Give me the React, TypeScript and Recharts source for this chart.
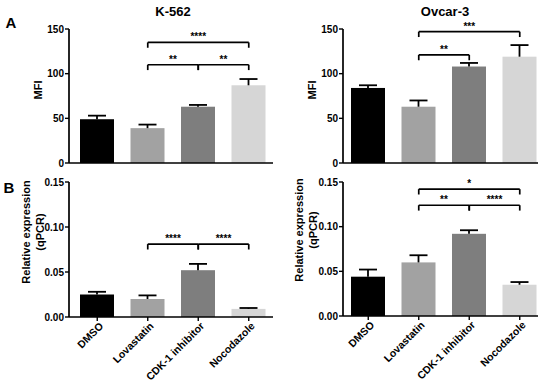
import { BarChart, Bar, Cell, XAxis, YAxis, ReferenceLine } from "recharts";

const categories = ["DMSO", "Lovastatin", "CDK-1 inhibitor", "Nocodazole"];
const barColors = ["#000000", "#a2a2a2", "#7e7e7e", "#d6d6d6"];

const k562Mfi = [49, 39, 63, 87];
const k562MfiSem = [4, 4, 2, 7];
const ovcarMfi = [84, 63, 108, 119];
const ovcarMfiSem = [3, 7, 4, 13];
const k562Qpcr = [0.025, 0.02, 0.052, 0.009];
const k562QpcrSem = [0.003, 0.004, 0.007, 0.001];
const ovcarQpcr = [0.044, 0.06, 0.092, 0.035];
const ovcarQpcrSem = [0.008, 0.008, 0.004, 0.003];

const mfiTicks = [0, 50, 100, 150];
const qpcrTicks = [0, 0.05, 0.1, 0.15];

type Bracket = { from: number; to: number; y: number; stars: string };

const k562MfiSig: Bracket[] = [
  { from: 1, to: 3, y: 135, stars: "****" },
  { from: 1, to: 2, y: 110, stars: "**" },
  { from: 2, to: 3, y: 110, stars: "**" },
];
const ovcarMfiSig: Bracket[] = [
  { from: 1, to: 3, y: 147, stars: "***" },
  { from: 1, to: 2, y: 121, stars: "**" },
];
const k562QpcrSig: Bracket[] = [
  { from: 1, to: 2, y: 0.081, stars: "****" },
  { from: 2, to: 3, y: 0.081, stars: "****" },
];
const ovcarQpcrSig: Bracket[] = [
  { from: 1, to: 3, y: 0.142, stars: "*" },
  { from: 1, to: 2, y: 0.124, stars: "**" },
  { from: 2, to: 3, y: 0.124, stars: "****" },
];

const FONT = '"Liberation Sans", Arial, sans-serif';

const toRows = (values: number[], sem: number[]) =>
  categories.map((name, i) => ({ name, value: values[i], sem: sem[i] }));

// bar + upper-only SEM whisker (Prism style)
function BarWithSem(props: any) {
  const { x, y, width, height, fill, payload } = props;
  const k = payload.value > 0 ? height / payload.value : 0;
  const top = y - payload.sem * k;
  const cx = x + width / 2;
  return (
    <g>
      <rect x={x} y={y} width={width} height={height} fill={fill} />
      <line x1={cx} x2={cx} y1={y} y2={top} stroke="#000" strokeWidth={1.8} />
      <line x1={cx - 9} x2={cx + 9} y1={top} y2={top} stroke="#000" strokeWidth={1.8} />
    </g>
  );
}

function AngledTick(props: any) {
  const { x, y, payload } = props;
  return (
    <g transform={`translate(${x + 1},${y - 2})`}>
      <text
        textAnchor="end"
        transform="rotate(-45)"
        dy={8}
        fontSize={10.5}
        fontWeight="bold"
        fontFamily={FONT}
        fill="#000"
      >
        {payload.value}
      </text>
    </g>
  );
}

const starLabel = (stars: string) => (props: any) => {
  const vb = props.viewBox || {};
  return (
    <text
      x={vb.x + (vb.width || 0) / 2}
      y={vb.y - 2}
      textAnchor="middle"
      fontSize={10}
      fontWeight="bold"
      fontFamily={FONT}
      fill="#000"
    >
      {stars}
    </text>
  );
};

function bracketLines(list: Bracket[], drop: number) {
  return list.flatMap((b, i) => {
    const a = categories[b.from];
    const c = categories[b.to];
    return [
      <ReferenceLine
        key={`h${i}`}
        segment={[{ x: a, y: b.y }, { x: c, y: b.y }]}
        stroke="#000"
        strokeWidth={1.7}
        ifOverflow="visible"
        label={starLabel(b.stars)}
      />,
      <ReferenceLine
        key={`l${i}`}
        segment={[{ x: a, y: b.y }, { x: a, y: b.y - drop }]}
        stroke="#000"
        strokeWidth={1.7}
        ifOverflow="visible"
      />,
      <ReferenceLine
        key={`r${i}`}
        segment={[{ x: c, y: b.y }, { x: c, y: b.y - drop }]}
        stroke="#000"
        strokeWidth={1.7}
        ifOverflow="visible"
      />,
    ];
  });
}

type PanelProps = {
  left: number;
  top: number;
  width: number;
  height: number;
  marginTop: number;
  marginRight: number;
  xHeight: number;
  padL: number;
  padR: number;
  rows: { name: string; value: number; sem: number }[];
  ticks: number[];
  fmt: (v: number) => string;
  sig: Bracket[];
  labels: boolean;
};

function Panel(p: PanelProps) {
  const max = p.ticks[p.ticks.length - 1];
  const tickStyle = { fontSize: 10, fontWeight: "bold", fontFamily: FONT, fill: "#000" };
  return (
    <div style={{ position: "absolute", left: p.left, top: p.top }}>
      <BarChart
        width={p.width}
        height={p.height}
        data={p.rows}
        margin={{ top: p.marginTop, right: p.marginRight, left: 0, bottom: 0 }}
      >
        <XAxis
          dataKey="name"
          height={p.xHeight}
          interval={0}
          padding={{ left: p.padL, right: p.padR }}
          axisLine={{ stroke: "#000", strokeWidth: 1.7 }}
          tickLine={{ stroke: "#000", strokeWidth: 1.4 }}
          tickSize={4}
          tick={p.labels ? <AngledTick /> : false}
        />
        <YAxis
          width={69}
          domain={[0, max]}
          ticks={p.ticks}
          interval={0}
          tickFormatter={p.fmt}
          axisLine={{ stroke: "#000", strokeWidth: 1.7 }}
          tickLine={{ stroke: "#000", strokeWidth: 1.4 }}
          tickSize={4}
          tickMargin={1}
          tick={tickStyle}
        />
        <Bar dataKey="value" barSize={34} shape={<BarWithSem />} isAnimationActive={false}>
          {p.rows.map((_, i) => (
            <Cell key={i} fill={barColors[i]} />
          ))}
        </Bar>
        {bracketLines(p.sig, max * 0.04)}
      </BarChart>
    </div>
  );
}

function Txt({ x, y, size, children, rotate }: any) {
  return (
    <div
      style={{
        position: "absolute",
        left: x,
        top: y,
        transform: `translate(-50%, -50%)${rotate ? " rotate(-90deg)" : ""}`,
        whiteSpace: "nowrap",
        fontFamily: FONT,
        fontWeight: "bold",
        fontSize: size,
        lineHeight: 1,
        color: "#000",
      }}
    >
      {children}
    </div>
  );
}

export default function App() {
  const mfiFmt = (v: number) => String(v);
  const qFmt = (v: number) => v.toFixed(2);
  return (
    <div
      style={{
        position: "absolute",
        left: 0,
        top: 0,
        width: 550,
        height: 383,
        background: "#fff",
        overflow: "hidden",
      }}
    >
      <Panel
        left={0}
        top={0}
        width={280}
        height={175}
        marginTop={29}
        marginRight={7}
        xHeight={12}
        padL={3}
        padR={-1}
        rows={toRows(k562Mfi, k562MfiSem)}
        ticks={mfiTicks}
        fmt={mfiFmt}
        sig={k562MfiSig}
        labels={false}
      />
      <Panel
        left={274}
        top={0}
        width={275}
        height={175}
        marginTop={29}
        marginRight={11}
        xHeight={12}
        padL={0}
        padR={-7}
        rows={toRows(ovcarMfi, ovcarMfiSem)}
        ticks={mfiTicks}
        fmt={mfiFmt}
        sig={ovcarMfiSig}
        labels={false}
      />
      <Panel
        left={0}
        top={175}
        width={280}
        height={208}
        marginTop={7}
        marginRight={7}
        xHeight={66}
        padL={3}
        padR={-1}
        rows={toRows(k562Qpcr, k562QpcrSem)}
        ticks={qpcrTicks}
        fmt={qFmt}
        sig={k562QpcrSig}
        labels={true}
      />
      <Panel
        left={274}
        top={175}
        width={275}
        height={208}
        marginTop={7}
        marginRight={11}
        xHeight={67}
        padL={0}
        padR={-7}
        rows={toRows(ovcarQpcr, ovcarQpcrSem)}
        ticks={qpcrTicks}
        fmt={qFmt}
        sig={ovcarQpcrSig}
        labels={true}
      />

      <Txt x={11} y={22} size={15}>A</Txt>
      <Txt x={9} y={187} size={15}>B</Txt>
      <Txt x={173} y={11} size={13}>K-562</Txt>
      <Txt x={445} y={11} size={13}>Ovcar-3</Txt>
      <Txt x={38} y={90} size={11} rotate>MFI</Txt>
      <Txt x={312} y={90} size={11} rotate>MFI</Txt>
      <Txt x={26} y={232} size={11} rotate>Relative expression</Txt>
      <Txt x={40} y={232} size={11} rotate>(qPCR)</Txt>
      <Txt x={299} y={230} size={11} rotate>Relative expression</Txt>
      <Txt x={313} y={230} size={11} rotate>(qPCR)</Txt>
    </div>
  );
}
